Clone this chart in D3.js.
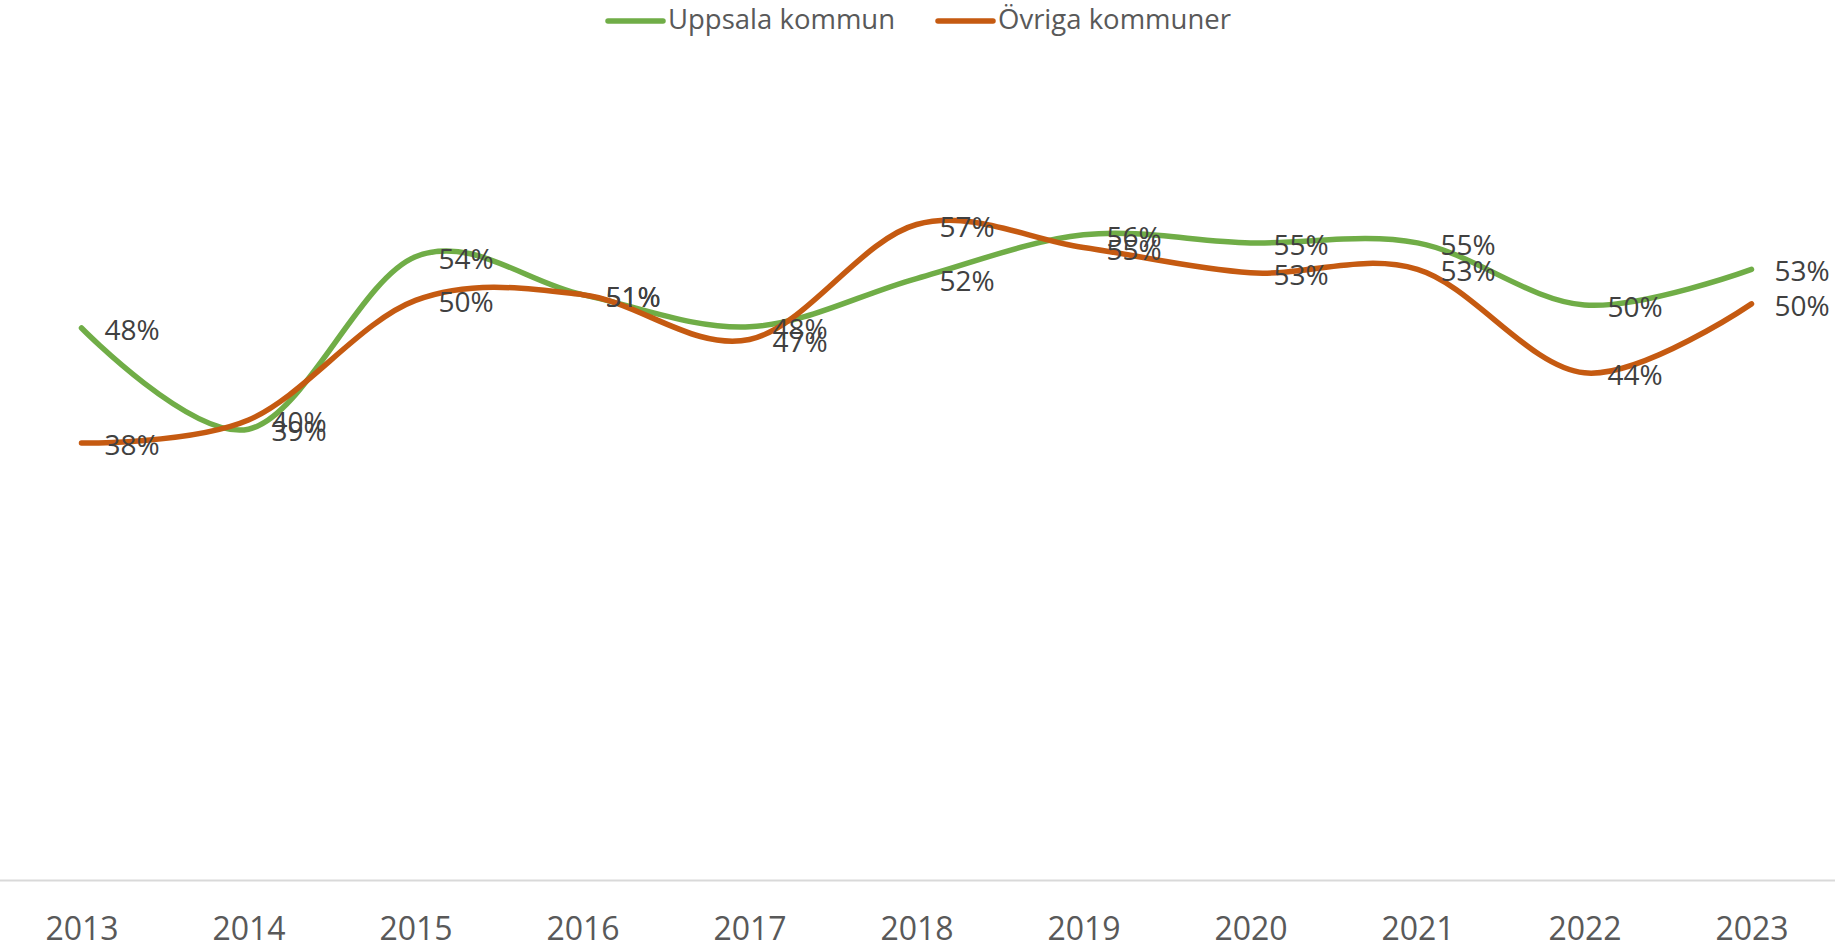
<!DOCTYPE html>
<html>
<head>
<meta charset="utf-8">
<script src="https://cdn.jsdelivr.net/npm/d3@7"></script>
<style>
  html, body { margin: 0; padding: 0; background: #ffffff; }
  svg { display: block; }
</style>
</head>
<body>
<svg id="chart" width="1835" height="950"></svg>
<script>
// ---- Data ----
const years = ["2013","2014","2015","2016","2017","2018","2019","2020","2021","2022","2023"];
const uppsala = [0.480, 0.392, 0.542, 0.509, 0.481, 0.523, 0.561, 0.554, 0.554, 0.500, 0.531];
const ovriga  = [0.380, 0.400, 0.504, 0.509, 0.470, 0.570, 0.550, 0.528, 0.531, 0.441, 0.501];
const seriesNames = ["Uppsala kommun", "Övriga kommuner"];
const seriesColors = ["#70AD47", "#C55A11"];

// ---- Layout ----
const svg = d3.select("#chart");
const font = "'Open Sans', 'Liberation Sans', sans-serif";

const x = d3.scalePoint().domain(years).range([-2, 1835]).padding(0.5);
const y = d3.scaleLinear().domain([0, 0.7]).range([880, 75]);

// x axis
const xAxis = svg.append("g")
  .attr("transform", `translate(0,${y(0)})`)
  .call(d3.axisBottom(x).tickSize(0).tickSizeOuter(0));
xAxis.select(".domain").attr("stroke", "#d9d9d9").attr("stroke-width", 2);
xAxis.selectAll("text")
  .attr("y", 60).attr("dy", 0)
  .attr("fill", "#595959")
  .style("font-family", font)
  .style("font-size", "32px");

// lines
const series = [uppsala, ovriga];
const line = d3.line()
  .x((d, i) => x(years[i]))
  .y(d => y(d))
  .curve(d3.curveCatmullRom.alpha(0));

series.forEach((vals, si) => {
  svg.append("path")
    .datum(vals)
    .attr("d", line)
    .attr("fill", "none")
    .attr("stroke", seriesColors[si])
    .attr("stroke-width", 5.5)
    .attr("stroke-linecap", "round")
    .attr("stroke-linejoin", "round");
});

// data labels (positioned right of each point, as in the reference; some overlap there too)
const fmt = d3.format(".0%");
series.forEach((vals, si) => {
  svg.append("g").selectAll("text")
    .data(vals)
    .join("text")
    .attr("x", (d, i) => x(years[i]) + 23)
    .attr("y", d => y(d) + 12)
    .attr("fill", "#404040")
    .style("font-family", font)
    .style("font-size", "28px")
    .text(d => fmt(d));
});

// legend
const legendItems = [
  { x1: 608, x2: 663, tx: 668 },
  { x1: 938, x2: 993, tx: 998 }
];
legendItems.forEach((it, i) => {
  const g = svg.append("g");
  g.append("line")
    .attr("x1", it.x1).attr("x2", it.x2)
    .attr("y1", 21).attr("y2", 21)
    .attr("stroke", seriesColors[i])
    .attr("stroke-width", 5.5)
    .attr("stroke-linecap", "round");
  g.append("text")
    .attr("x", it.tx).attr("y", 29)
    .attr("fill", "#595959")
    .style("font-family", font)
    .style("font-size", "27.5px")
    .text(seriesNames[i]);
});
</script>
</body>
</html>
